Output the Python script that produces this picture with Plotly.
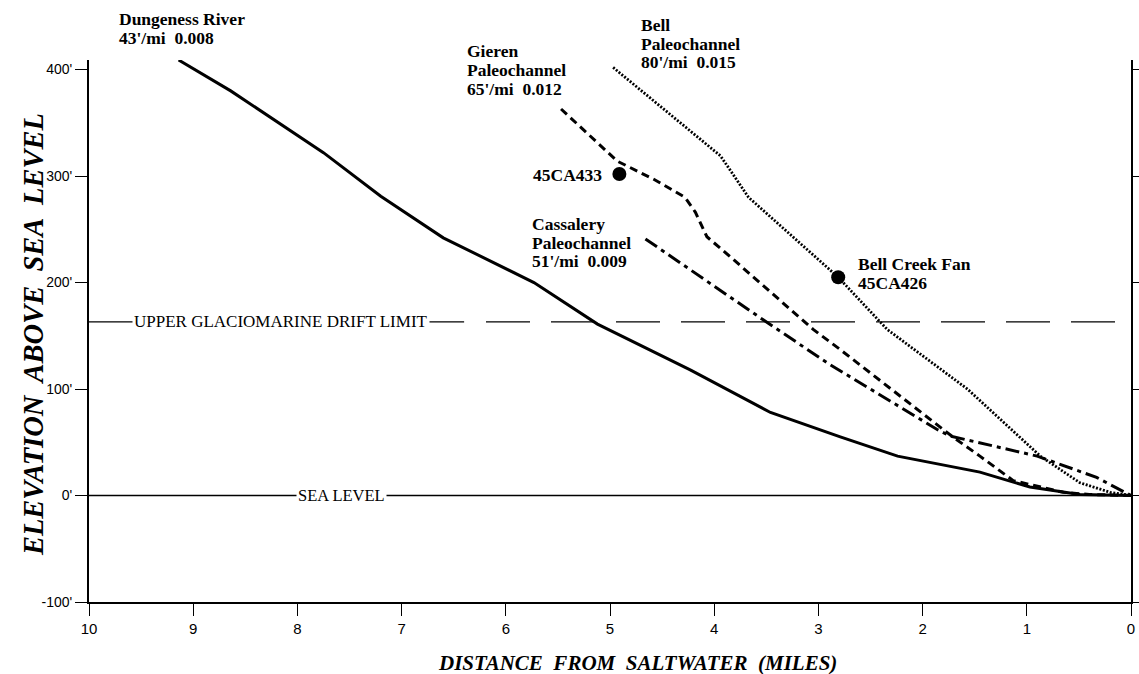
import plotly.graph_objects as go

# ---- data (miles from saltwater, elevation in feet) ----
dungeness_mi = [9.14, 8.64, 7.75, 7.20, 6.60, 5.73, 5.12, 4.23, 3.46, 2.79, 2.24, 1.45, 0.97, 0.49, 0.0]
dungeness_ft = [409, 380, 322, 281, 242, 200, 161, 118, 78, 55, 37, 22, 8, 1, 0]

gieren_mi = [5.47, 4.93, 4.58, 4.28, 4.18, 4.07, 3.82, 3.05, 2.79, 1.93, 1.71, 1.45, 1.13, 0.65, 0.40, 0.0]
gieren_ft = [363, 314, 297, 280, 266, 243, 222, 156, 137, 71, 55, 37, 14, 3, 1, 0]

bell_mi = [4.97, 3.94, 3.67, 2.81, 2.34, 1.57, 0.87, 0.49, 0.20, 0.0]
bell_ft = [402, 319, 280, 205, 156, 100, 37, 12, 3, 0]

cass_mi = [4.66, 3.53, 2.89, 1.86, 1.74, 0.90, 0.33, 0.0]
cass_ft = [241, 165, 123, 62, 56, 37, 17, 0]

site_names = ["45CA433", "45CA426"]
site_mi = [4.91, 2.81]
site_ft = [302, 205]

glacial_ft = 163
glacial_solid_mi = [10, 6.40]
glacial_dash_mi = [6.19, 0.134]
sea_level_mi = [10, 0]

x_ticks = list(range(0, 11))
y_ticks = [-100, 0, 100, 200, 300, 400]
y_ticktext = ["-100'", "0'", "100'", "200'", "300'", "400'"]

SERIF = "Liberation Serif, Times New Roman, serif"
SANS = "Liberation Sans, Arial, sans-serif"

fig = go.Figure()

fig.add_trace(go.Scatter(x=sea_level_mi, y=[0, 0], mode="lines",
                         line=dict(color="black", width=1.5), hoverinfo="skip"))
fig.add_trace(go.Scatter(x=glacial_solid_mi, y=[glacial_ft] * 2, mode="lines",
                         line=dict(color="black", width=1.2), hoverinfo="skip"))
fig.add_trace(go.Scatter(x=glacial_dash_mi, y=[glacial_ft] * 2, mode="lines",
                         line=dict(color="black", width=1.2, dash="44px,21px"), hoverinfo="skip"))

fig.add_trace(go.Scatter(x=dungeness_mi, y=dungeness_ft, mode="lines",
                         line=dict(color="black", width=3)))
fig.add_trace(go.Scatter(x=gieren_mi, y=gieren_ft, mode="lines",
                         line=dict(color="black", width=3, dash="8px,5px")))
fig.add_trace(go.Scatter(x=bell_mi, y=bell_ft, mode="lines",
                         line=dict(color="black", width=2.8, dash="2px,1.6px")))
fig.add_trace(go.Scatter(x=cass_mi, y=cass_ft, mode="lines",
                         line=dict(color="black", width=3, dash="14px,5px,4px,5px")))
fig.add_trace(go.Scatter(x=site_mi, y=site_ft, mode="markers", text=site_names,
                         marker=dict(color="black", size=14)))

# plot area in target picture pixels: x 88..1131, y 60..602
PX_L, PX_R, PX_T, PX_B = 88, 1131, 60, 602


def px(xp, yp):
    return (xp - PX_L) / (PX_R - PX_L), (PX_B - yp) / (PX_B - PX_T)


ann = []


def label(lines, xp, yp_mid, anchor="left", step=18.8, size=17.5):
    n = len(lines)
    for i, t in enumerate(lines):
        x, y = px(xp, yp_mid + step * (i - (n - 1) / 2))
        ann.append(dict(x=x, y=y, xref="paper", yref="paper", text="<b>" + t + "</b>",
                        showarrow=False, xanchor=anchor, yanchor="middle", borderpad=0,
                        font=dict(family=SERIF, size=size, color="black")))


label(["Dungeness River", "43'/mi  0.008"], 117, 28.5)
label(["Gieren", "Paleochannel", "65'/mi  0.012"], 465, 70)
label(["Bell", "Paleochannel", "80'/mi  0.015"], 640, 43.5)
label(["45CA433"], 602, 175, anchor="right")
label(["Cassalery", "Paleochannel", "51'/mi  0.009"], 530, 242.5)
label(["Bell Creek Fan", "45CA426"], 857, 273.5)

ann.append(dict(x=8.16, y=glacial_ft, xref="x", yref="y", text="UPPER GLACIOMARINE DRIFT LIMIT",
                showarrow=False, bgcolor="white", borderpad=1,
                font=dict(family=SERIF, size=17, color="black")))
ann.append(dict(x=7.58, y=0, xref="x", yref="y", text="SEA LEVEL",
                showarrow=False, bgcolor="white", borderpad=1,
                font=dict(family=SERIF, size=16.5, color="black")))

tx, ty = px(32, 335)
ann.append(dict(x=tx, y=ty, xref="paper", yref="paper", textangle=-90,
                text="<b><i>ELEVATION  ABOVE  SEA  LEVEL</i></b>", showarrow=False,
                xanchor="center", yanchor="middle",
                font=dict(family=SERIF, size=28.5, color="black")))
tx, ty = px(637, 663)
ann.append(dict(x=tx, y=ty, xref="paper", yref="paper",
                text="<b><i>DISTANCE  FROM  SALTWATER  (MILES)</i></b>", showarrow=False,
                xanchor="center", yanchor="middle",
                font=dict(family=SERIF, size=21, color="black")))

# the photographed page comes out ~1.3% narrower horizontally, so the canvas is widened to match
fig.update_layout(
    width=1153, height=674,
    margin=dict(l=89, r=8, t=60, b=72),
    paper_bgcolor="white", plot_bgcolor="white",
    showlegend=False,
    annotations=ann,
    xaxis=dict(range=[10, 0], tickvals=x_ticks, ticks="outside", ticklen=12, tickwidth=1.2,
               tickcolor="black", showline=True, linecolor="black", linewidth=2,
               showgrid=False, zeroline=False,
               tickfont=dict(family=SANS, size=15, color="black")),
    yaxis=dict(range=[-100, 409], tickvals=y_ticks, ticktext=y_ticktext, ticks="outside",
               ticklen=12, tickwidth=1.2, tickcolor="black", showline=True, mirror="ticks",
               linecolor="black", linewidth=2, showgrid=False, zeroline=False,
               tickfont=dict(family=SANS, size=14, color="black")),
)

fig.write_html("out.html", config={"displayModeBar": False},
               post_script="document.body.style.margin='0';document.body.style.overflow='hidden';")
